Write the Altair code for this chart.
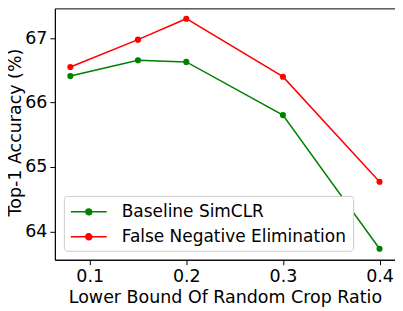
import altair as alt
import pandas as pd

ratios = [0.08, 0.15, 0.2, 0.3, 0.4]
baseline = [66.41, 66.655, 66.63, 65.805, 63.73]
fne = [66.55, 66.975, 67.30, 66.40, 64.77]
series_names = ["Baseline SimCLR", "False Negative Elimination"]
series_colors = ["green", "red"]

rows = []
for name, vals in zip(series_names, [baseline, fne]):
    for r, v in zip(ratios, vals):
        rows.append({"ratio": r, "acc": v, "series": name})
df = pd.DataFrame(rows)

font = "DejaVu Sans"
# legend glyph: line of 4 units with a dot in its middle (unit = 9 px at size 324)
sym = "M-1,0L3,0M0.67,0a0.33,0.33 0 1,0 0.66,0a0.33,0.33 0 1,0 -0.66,0"

chart = alt.Chart(df).mark_line(
    strokeWidth=1.5,
    point=alt.OverlayMarkDef(filled=True, size=38, opacity=1),
).encode(
    x=alt.X("ratio:Q", scale=alt.Scale(domain=[0.064, 0.416], nice=False, zero=False),
            axis=alt.Axis(values=[0.1, 0.2, 0.3, 0.4], format=".1f", grid=False,
                          title="Lower Bound Of Random Crop Ratio")),
    y=alt.Y("acc:Q", scale=alt.Scale(domain=[63.56, 67.46], nice=False, zero=False),
            axis=alt.Axis(values=[64, 65, 66, 67], format="d", grid=False,
                          title="Top-1 Accuracy (%)",
                          titleX=-34, titleY=124, titleAlign="center",
                          titleBaseline="alphabetic", titleAngle=270)),
    color=alt.Color("series:N",
                    scale=alt.Scale(domain=series_names, range=series_colors),
                    legend=alt.Legend(title=None, orient="none", legendX=9, legendY=188,
                                      symbolType=sym, symbolSize=324,
                                      symbolStrokeWidth=1.5,
                                      labelFont=font, labelFontSize=17, labelColor="black",
                                      labelLimit=400,
                                      rowPadding=7, padding=6,
                                      strokeColor="#cccccc", fillColor="white",
                                      cornerRadius=3, labelOffset=32)),
).properties(
    width=341, height=252,
    autosize=alt.AutoSizeParams(type="none"),
    padding={"left": 47, "top": 0, "right": 0, "bottom": 50},
).configure_view(
    stroke="black", strokeWidth=1,
).configure_axis(
    labelFont=font, labelFontSize=17.5, labelColor="black",
    titleFont=font, titleFontSize=17.5, titleColor="black", titleFontWeight="normal",
    domainColor="black", tickColor="black", tickSize=5, labelPadding=3,
).configure_axisX(titlePadding=3)

chart.save("out.html", embed_options={"renderer": "svg", "actions": False})
